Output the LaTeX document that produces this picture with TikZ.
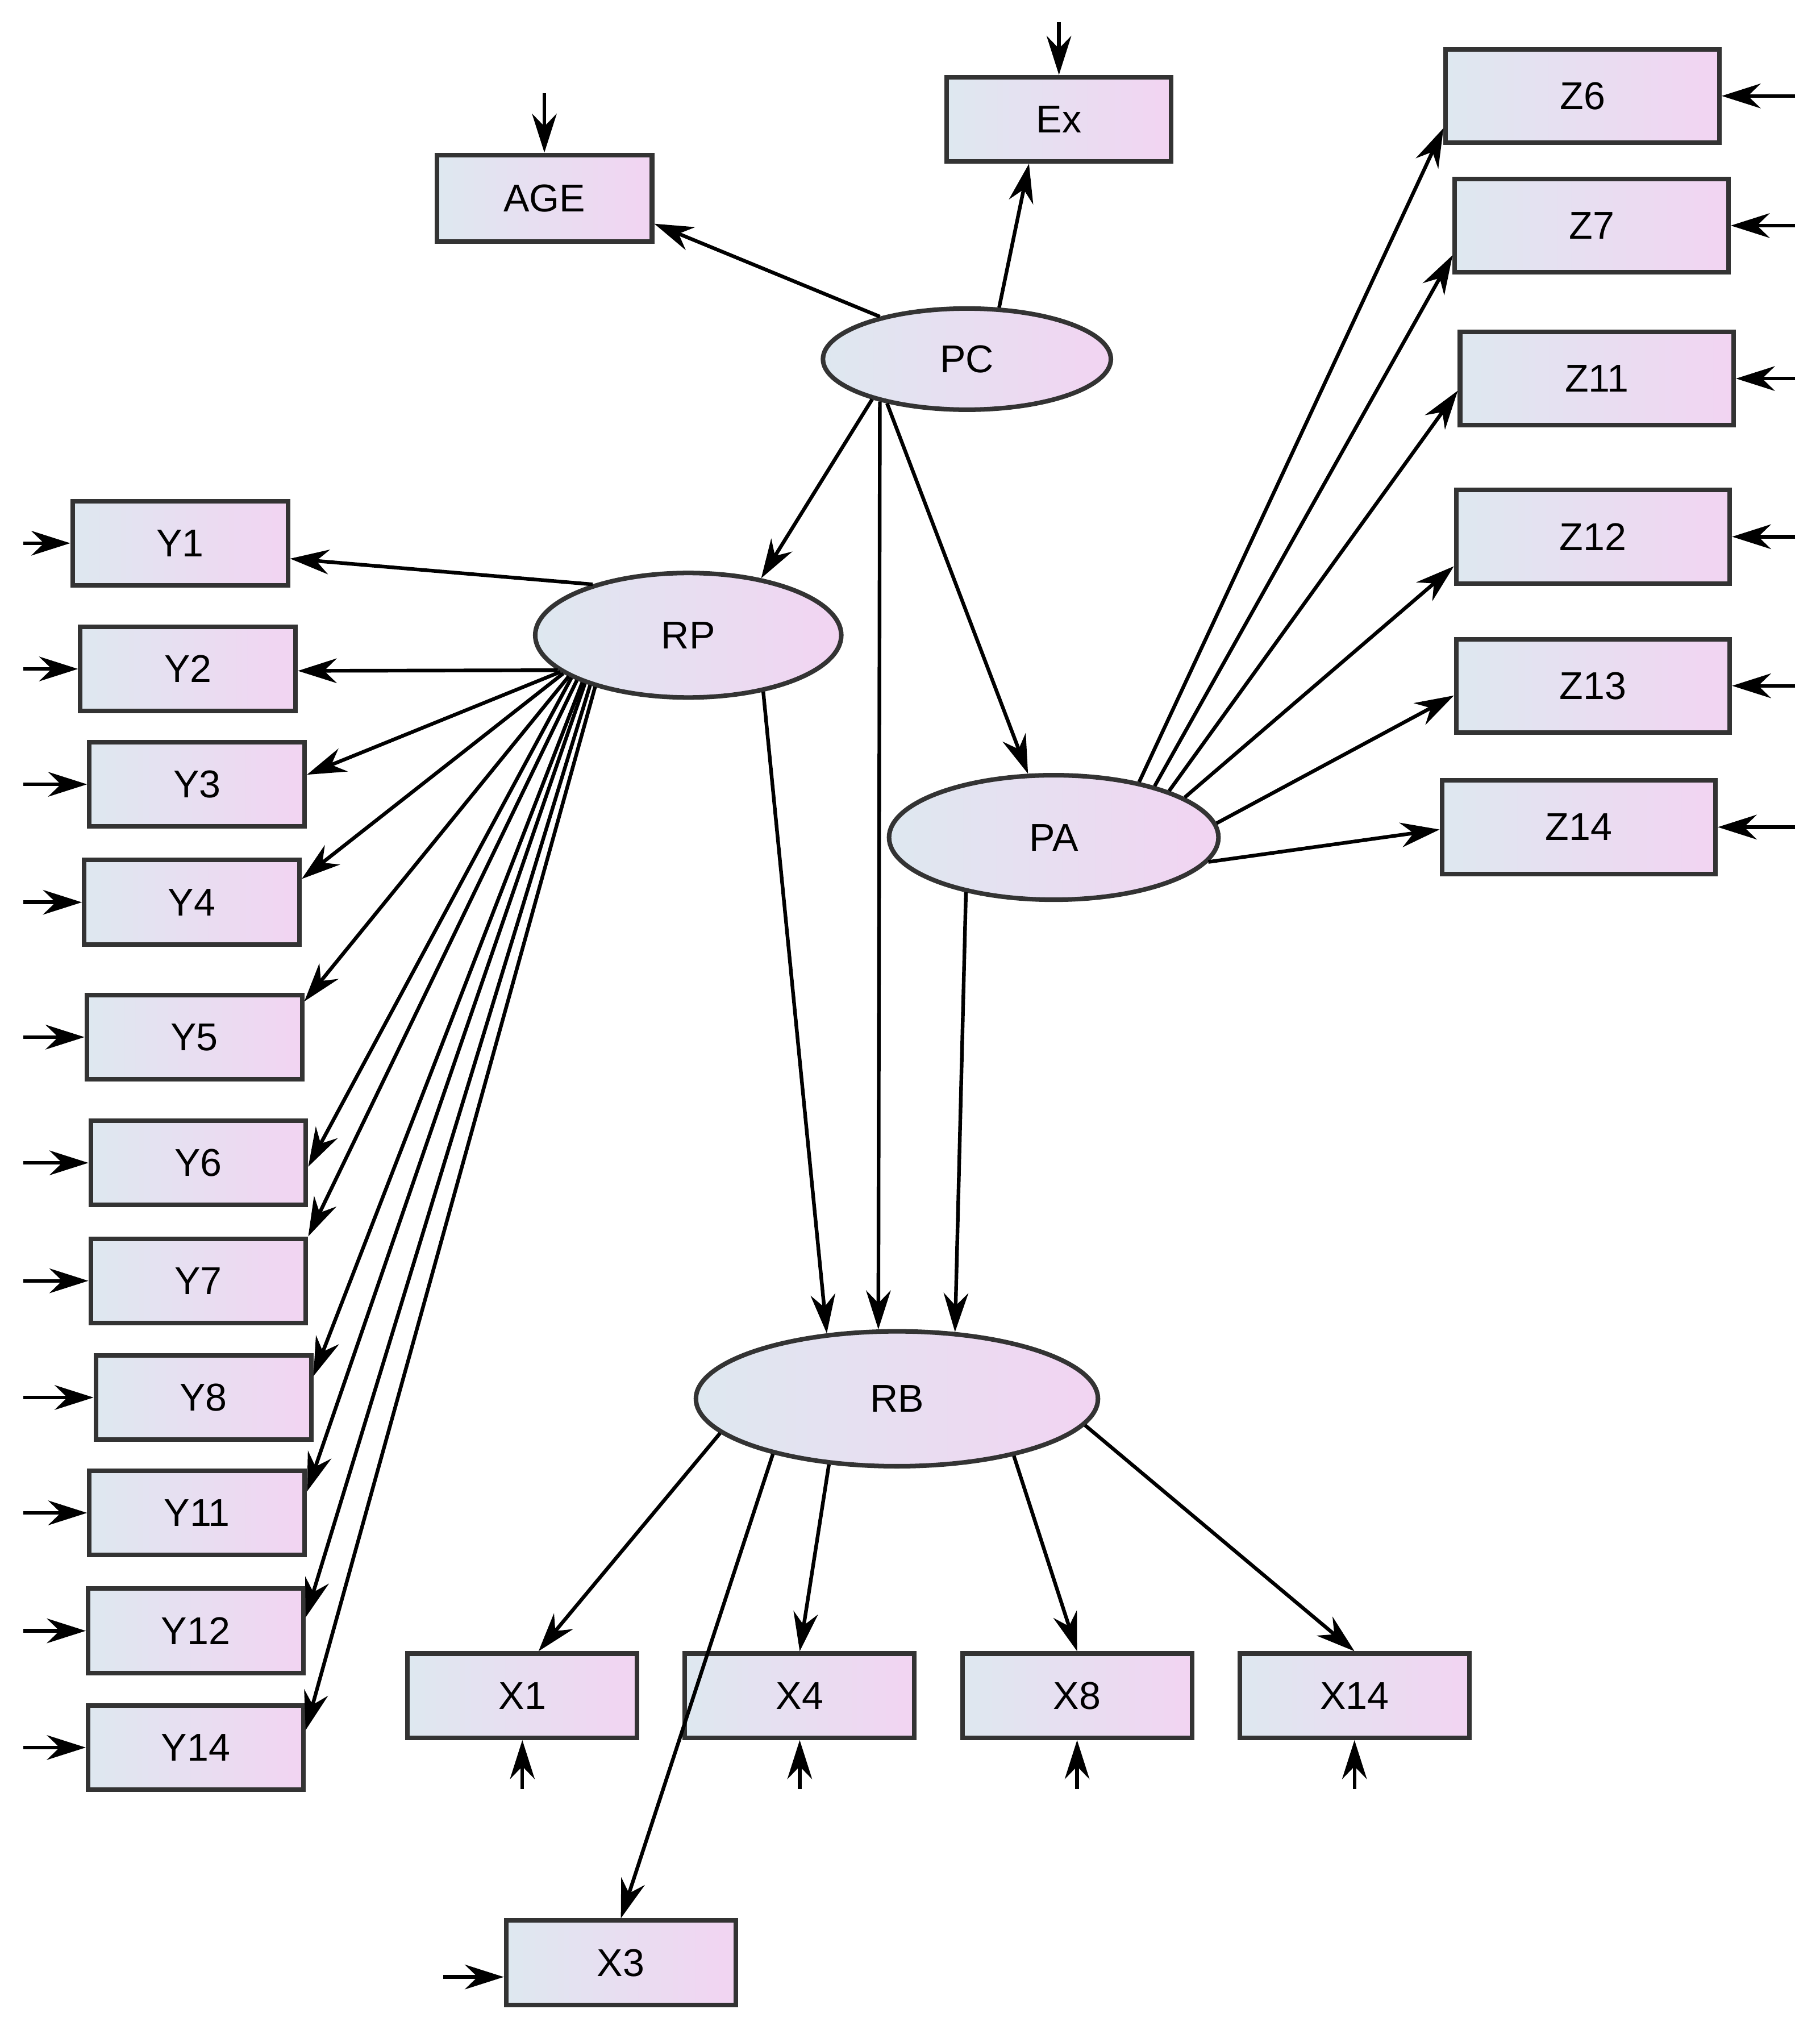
\documentclass[tikz,border=0pt]{standalone}
\usepackage{fontspec}
\setmainfont{Liberation Sans}
\usetikzlibrary{shapes.geometric,arrows.meta}
\definecolor{lb}{RGB}{222,232,240}
\definecolor{pk}{RGB}{242,212,242}
\begin{document}
\begin{tikzpicture}[x=0.01cm,y=-0.01cm,
 box/.style={draw=black!80,line width=1pt,left color=lb,right color=pk,minimum width=1.66cm,minimum height=0.65cm,inner sep=0pt,font=\fontsize{8.5}{10}\selectfont},
 wbox/.style={box,minimum width=2.11cm,minimum height=0.72cm},
 xbox/.style={box,minimum width=1.77cm},
 lat/.style={ellipse,draw=black!80,line width=1pt,left color=lb,right color=pk,inner sep=0pt,font=\fontsize{8.5}{10}\selectfont},
 ar/.style={line width=0.8pt,-{Stealth[length=0.3cm,width=0.19cm]}}]
\useasboundingbox (0,0) rectangle (1404,1569);
\node[box,minimum width=1.66cm,minimum height=0.67cm] (AGE) at (420,153) {AGE};
\node[box,minimum width=1.73cm] (Ex) at (817,92) {Ex};
\node[wbox] (Z6) at (1221,74) {Z6};
\node[wbox] (Z7) at (1228,174) {Z7};
\node[wbox] (Z11) at (1232,292) {Z11};
\node[wbox] (Z12) at (1229,414) {Z12};
\node[wbox] (Z13) at (1229,529) {Z13};
\node[wbox] (Z14) at (1218,638) {Z14};
\node[box] (Y1) at (139,419) {Y1};
\node[box] (Y2) at (145,516) {Y2};
\node[box] (Y3) at (152,605) {Y3};
\node[box] (Y4) at (148,696) {Y4};
\node[box] (Y5) at (150,800) {Y5};
\node[box] (Y6) at (153,897) {Y6};
\node[box] (Y7) at (153,988) {Y7};
\node[box] (Y8) at (157,1078) {Y8};
\node[box] (Y11) at (152,1167) {Y11};
\node[box] (Y12) at (151,1258) {Y12};
\node[box] (Y14) at (151,1348) {Y14};
\node[xbox] (X1) at (403,1308) {X1};
\node[xbox] (X4) at (617,1308) {X4};
\node[xbox] (X8) at (831,1308) {X8};
\node[xbox] (X14) at (1045,1308) {X14};
\node[xbox] (X3) at (479,1514) {X3};
\node[lat,minimum width=2.22cm,minimum height=0.78cm] (PC) at (746,277) {PC};
\node[lat,minimum width=2.36cm,minimum height=0.96cm] (RP) at (531,490) {RP};
\node[lat,minimum width=2.54cm,minimum height=0.96cm] (PA) at (813,646) {PA};
\node[lat,minimum width=3.10cm,minimum height=1.04cm] (RB) at (692,1079) {RB};
% PC
\draw[ar] (PC.154) -- (AGE.347);
\draw[ar] (PC.58) -- (Ex.236);
\draw[ar] (PC.203) -- (RP.38);
\draw[ar] (PC.206) -- (RB.105);
\draw[ar] (PC.209) -- (PA.112);
\draw[ar] (RP.-37) -- (RB.137);
\draw[ar] (PA.212) -- (RB.49);
% PA to Z
\draw[ar] (PA.33) -- (Z6.193);
\draw[ar] (PA.27) -- (Z7.192);
\draw[ar] (PA.22) -- (Z11.185);
\draw[ar] (PA.17) -- (Z12.192);
\draw[ar] (PA.5) -- (Z13.184);
\draw[ar] (PA.-9) -- (Z14.181);
% RP to Y
\draw[ar] (RP.152) -- (Y1.352);
\draw[ar] (RP.195) -- (Y2.359);
\draw[ar] (RP.196) -- (Y3.5);
\draw[ar] (RP.197) -- (Y4.12);
\draw[ar] (RP.199) -- (Y5.18);
\draw[ar] (RP.200) -- (Y6.358);
\draw[ar] (RP.202) -- (Y7.north east);
\draw[ar] (RP.204) -- (Y8.11);
\draw[ar] (RP.205) -- (Y11.11);
\draw[ar] (RP.207) -- (Y12.7);
\draw[ar] (RP.209) -- (Y14.9);
% RB to X
\draw[ar] (RB.191) -- (X1.70);
\draw[ar] (RB.204) -- (X3.north);
\draw[ar] (RB.224) -- (X4.north);
\draw[ar] (RB.-26) -- (X8.north);
\draw[ar] (RB.-8) -- (X14.north);
% error terms
\coordinate (eAGE) at (420,72);
\coordinate (eEx) at (817,17);
\draw[ar] (eAGE) -- (AGE.north);
\draw[ar] (eEx) -- (Ex.north);
\foreach \z in {Z6,Z7,Z11,Z12,Z13,Z14}{
  \coordinate (e\z) at (1385,0 |- \z.east);
  \draw[ar] (e\z) -- (\z.east);}
\foreach \y in {Y1,Y2,Y3,Y4,Y5,Y6,Y7,Y8,Y11,Y12,Y14}{
  \coordinate (e\y) at (18,0 |- \y.west);
  \draw[ar] (e\y) -- (\y.west);}
\foreach \x in {X1,X4,X8,X14}{
  \coordinate (e\x) at (\x.south |- 0,1380);
  \draw[ar] (e\x) -- (\x.south);}
\coordinate (eX3) at (342,1525);
\draw[ar] (eX3) -- (X3.west |- eX3);
\end{tikzpicture}
\end{document}
